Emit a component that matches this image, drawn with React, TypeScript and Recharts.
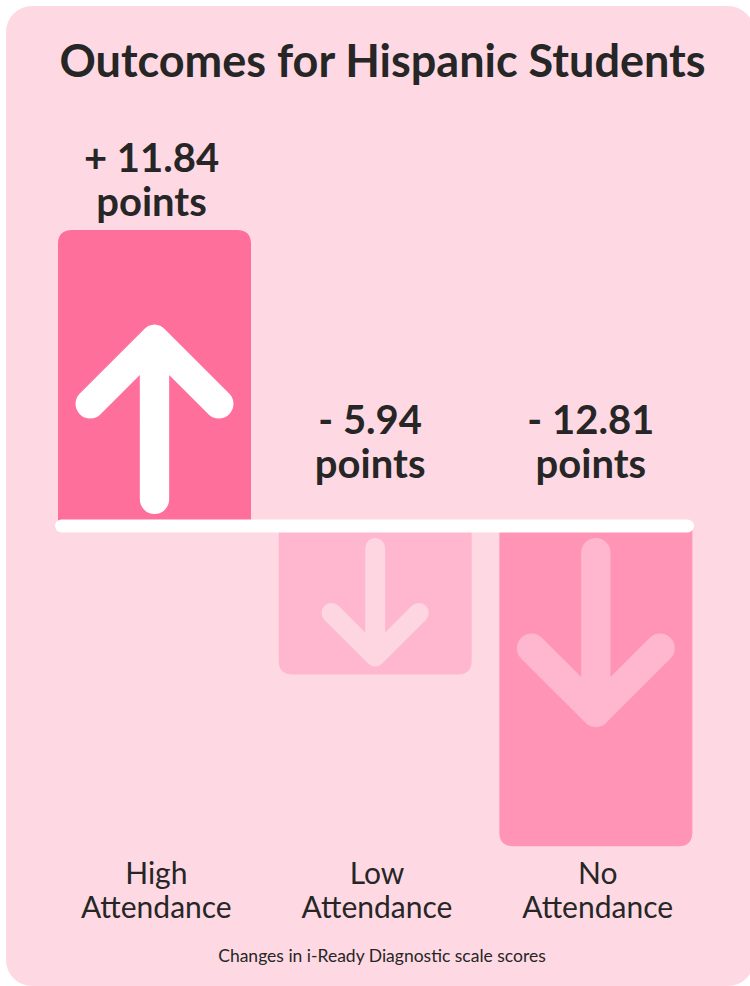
import React from 'react';
import { BarChart, Bar, XAxis, YAxis, ReferenceLine, LabelList } from 'recharts';

const categories = ['High Attendance', 'Low Attendance', 'No Attendance'];
const changes = [11.84, -5.94, -12.81];
const valueLabels = ['+ 11.84', '- 5.94', '- 12.81'];
const unitLabel = 'points';
const title = 'Outcomes for Hispanic Students';
const footnote = 'Changes in i-Ready Diagnostic scale scores';

const barColors = ['#ff6f9c', '#feb7ce', '#ff94b7'];
const arrowColors = ['#ffffff', '#fdd6e2', '#feb7ce'];
const TEXT = '#262626';
const BG = '#fed9e3';
const FONT = 'Lato, "Noto Sans", sans-serif';

const data = categories.map((c, i) => ({ category: c, change: changes[i], label: valueLabels[i], idx: i }));

const BarShape = (props: any) => {
  const { x, y, width, height, payload } = props;
  const top = Math.min(y, y + height);
  const bottom = Math.max(y, y + height);
  const h = bottom - top;
  const positive = payload.change >= 0;
  const r = 14;
  const i = payload.idx;
  const x2 = x + width;
  let d: string;
  if (positive) {
    d = `M${x},${bottom} L${x},${top + r} Q${x},${top} ${x + r},${top} L${x2 - r},${top} Q${x2},${top} ${x2},${top + r} L${x2},${bottom} Z`;
  } else {
    d = `M${x},${top} L${x2},${top} L${x2},${bottom - r} Q${x2},${bottom} ${x2 - r},${bottom} L${x + r},${bottom} Q${x},${bottom} ${x},${bottom - r} Z`;
  }
  const cx = x + width / 2;
  const L = Math.min(h - 20, 0.98 * width);
  const sw = 0.155 * L;
  const dir = positive ? -1 : 1;
  const baseOuter = positive ? bottom - 12 : top + 12;
  const tipOuter = baseOuter + dir * L;
  const baseP = baseOuter + dir * (sw / 2);
  const tipP = tipOuter - dir * (sw / 2);
  const wing = 0.34 * L;
  const arrow = `M${cx},${baseP} L${cx},${tipP} M${cx - wing},${tipP - dir * wing} L${cx},${tipP} L${cx + wing},${tipP - dir * wing}`;
  return (
    <g>
      <path d={d} fill={barColors[i]} />
      <path d={arrow} fill="none" stroke={arrowColors[i]} strokeWidth={sw} strokeLinecap="round" strokeLinejoin="round" />
    </g>
  );
};

const ValueLabel = (props: any) => {
  const vb = props.viewBox || props;
  const { x, y, width, height } = vb;
  const index = props.index;
  const top = Math.min(y, y + height);
  const positive = changes[index] >= 0;
  const cx = x + width / 2 - (positive ? 3 : 5);
  const y2 = positive ? top - 14 : top - 48;
  return (
    <text textAnchor="middle" fill={TEXT} fontFamily={FONT} fontWeight={700} fontSize={40}>
      <tspan x={cx} y={y2 - 44}>{valueLabels[index]}</tspan>
      <tspan x={cx} y={y2}>{unitLabel}</tspan>
    </text>
  );
};

const CategoryTick = (props: any) => {
  const { x, y, payload } = props;
  const parts = String(payload.value).split(' ');
  return (
    <text textAnchor="middle" fill={TEXT} fontFamily={FONT} fontSize={30}>
      <tspan x={x + 2} y={y + 27}>{parts[0]}</tspan>
      <tspan x={x + 2} y={y + 61}>{parts[1]}</tspan>
    </text>
  );
};

const BaseLine = (props: any) => {
  const { x1, x2, y1 } = props;
  return <line x1={x1 + 17.5} x2={x2 - 18.5} y1={y1} y2={y1} stroke="#ffffff" strokeWidth={13} strokeLinecap="round" />;
};

export default function App() {
  return (
    <div style={{ position: 'absolute', left: 0, top: 0, width: 750, height: 986, overflow: 'hidden', background: '#ffffff' }}>
      <div style={{ position: 'absolute', left: 6, top: 6, width: 748, height: 980, borderRadius: 26, background: BG }} />
      <div style={{ position: 'absolute', left: 0, top: 0 }}>
        <BarChart width={750} height={986} data={data} margin={{ top: 201, left: 44, right: 44, bottom: 55 }} barCategoryGap={14}>
          <XAxis dataKey="category" axisLine={false} tickLine={false} tickMargin={0} height={80} tick={<CategoryTick />} interval={0} />
          <YAxis hide domain={[-13, 13]} type="number" />
          <Bar dataKey="change" isAnimationActive={false} shape={<BarShape />}>
            <LabelList dataKey="label" content={<ValueLabel />} />
          </Bar>
          <ReferenceLine y={0} stroke="#ffffff" strokeWidth={13} shape={<BaseLine />} />
        </BarChart>
      </div>
      <svg width={750} height={986} style={{ position: 'absolute', left: 0, top: 0, pointerEvents: 'none' }}>
        <text x={382.5} y={77} textAnchor="middle" fill={TEXT} fontFamily={FONT} fontWeight={700} fontSize={45}>{title}</text>
        <text x={382} y={962} textAnchor="middle" fill={TEXT} fontFamily={FONT} fontSize={17.5}>{footnote}</text>
      </svg>
    </div>
  );
}
